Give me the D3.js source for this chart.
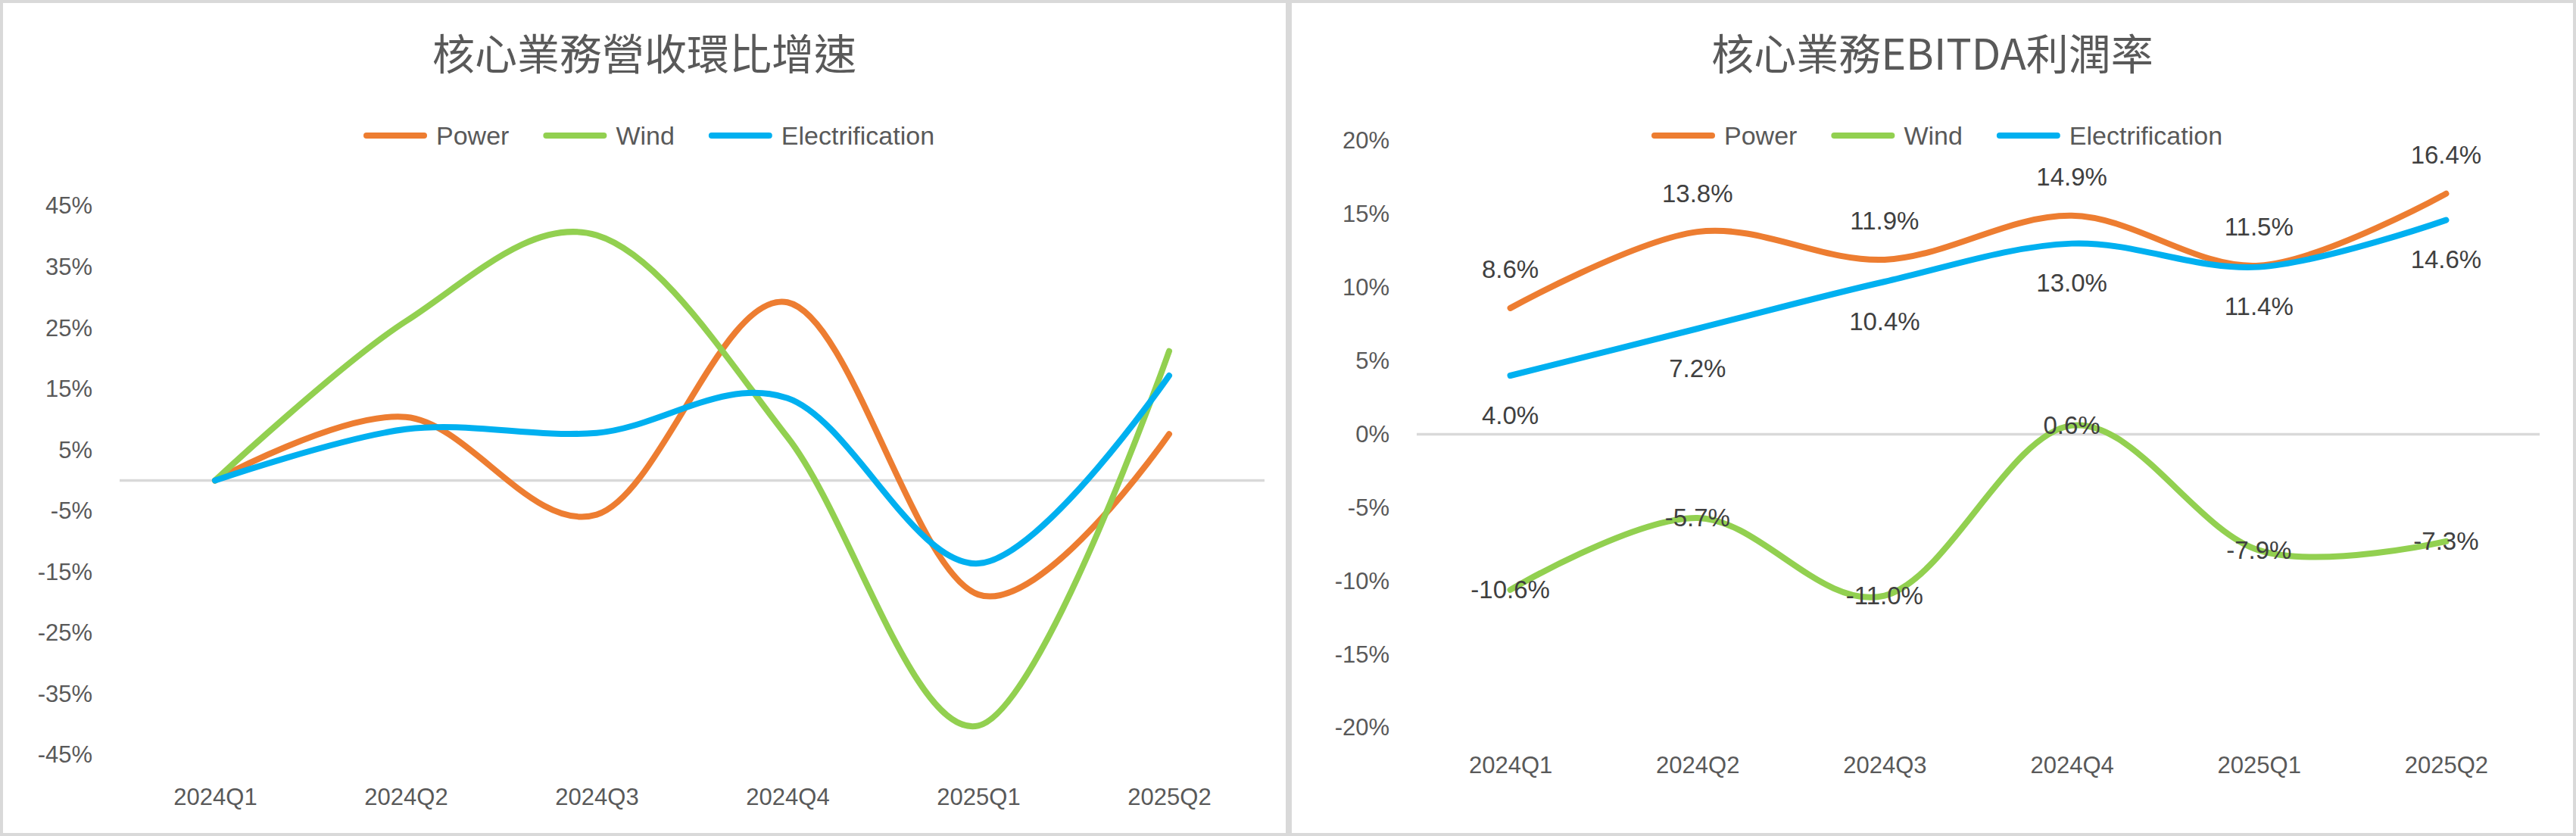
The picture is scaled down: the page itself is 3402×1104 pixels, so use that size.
<!DOCTYPE html>
<html>
<head>
<meta charset="utf-8">
<script src="https://cdn.jsdelivr.net/npm/d3@7"></script>
<style>
  html, body { margin: 0; padding: 0; background: #fff; }
  svg { display: block; }
</style>
</head>
<body>
<div id="chart"></div>
<script>
// ---------- data ----------
const categories = ["2024Q1", "2024Q2", "2024Q3", "2024Q4", "2025Q1", "2025Q2"];
const seriesNames = ["Power", "Wind", "Electrification"];
const seriesColors = ["#ED7D31", "#92D050", "#00B0F0"];

// Left chart: 核心業務營收環比增速 (%)
const revTitle = "核心業務營收環比增速";
const revPower = [0, 10.4, -5.6, 29.2, -18.7, 7.6];
const revWind = [0, 26.1, 40.2, 7.1, -40.2, 21.2];
const revElec = [0, 8.4, 7.8, 13.5, -13.6, 17.2];
const revTicks = [45, 35, 25, 15, 5, -5, -15, -25, -35, -45];

// Right chart: 核心業務EBITDA利潤率 (%)
const marginTitle = "核心業務EBITDA利潤率";
const marginPower = [8.6, 13.8, 11.9, 14.9, 11.5, 16.4];
const marginWind = [-10.6, -5.7, -11.0, 0.6, -7.9, -7.3];
const marginElec = [4.0, 7.2, 10.4, 13.0, 11.4, 14.6];
const marginTicks = [20, 15, 10, 5, 0, -5, -10, -15, -20];

// ---------- drawing ----------
const W = 3402, H = 1104;
const svg = d3.select("#chart").append("svg")
  .attr("width", W).attr("height", H)
  .style("background", "#fff");

const FONT = "'Liberation Sans', Arial, sans-serif";
const CJK = "'Noto Sans CJK TC', 'Noto Sans CJK SC', sans-serif";

function drawPanel(cfg) {
  const g = svg.append("g").attr("transform", `translate(${cfg.px},0)`);
  // panel background + border
  g.append("rect")
    .attr("x", 2).attr("y", 2)
    .attr("width", cfg.pw - 4).attr("height", H - 4)
    .attr("fill", "#fff").attr("stroke", "#d9d9d9").attr("stroke-width", 4);

  // title
  g.append("text")
    .attr("x", cfg.pw / 2).attr("y", 92)
    .attr("text-anchor", "middle")
    .attr("font-family", CJK).attr("font-size", 56)
    .attr("fill", "#595959")
    .text(cfg.title);

  // scales (percent units)
  const x = d3.scalePoint().domain(categories).range([cfg.x0, cfg.x1]).padding(0.5);
  const y = d3.scaleLinear().domain(cfg.yDomain).range([cfg.yBottom, cfg.yTop]);

  // y axis labels
  const yAxis = g.append("g")
    .attr("transform", `translate(${cfg.yLabelRight},0)`)
    .call(d3.axisLeft(y).tickValues(cfg.ticks).tickSize(0).tickPadding(0)
      .tickFormat(d => d + "%"));
  yAxis.select(".domain").remove();
  yAxis.selectAll("text")
    .attr("font-family", FONT).attr("font-size", 31).attr("fill", "#595959");

  // x axis labels
  const xAxis = g.append("g")
    .attr("transform", `translate(0,${cfg.xLabelY})`)
    .call(d3.axisBottom(x).tickSize(0).tickPadding(0));
  xAxis.select(".domain").remove();
  xAxis.selectAll("text")
    .attr("y", 0).attr("dy", "0.35em")
    .attr("font-family", FONT).attr("font-size", 31).attr("fill", "#595959");

  // zero line
  g.append("line")
    .attr("x1", cfg.x0).attr("x2", cfg.x1)
    .attr("y1", y(0)).attr("y2", y(0))
    .attr("stroke", "#d9d9d9").attr("stroke-width", 3.5);

  // lines
  const line = d3.line()
    .x((d, i) => x(categories[i]))
    .y(d => y(d))
    .curve(d3.curveCatmullRom.alpha(0));
  cfg.series.forEach((vals, si) => {
    g.append("path")
      .datum(vals)
      .attr("d", line)
      .attr("fill", "none")
      .attr("stroke", seriesColors[si])
      .attr("stroke-width", 8)
      .attr("stroke-linecap", "round")
      .attr("stroke-linejoin", "round");
  });

  // data labels
  if (cfg.labels) {
    cfg.series.forEach((vals, si) => {
      const pos = cfg.labelPos[si];
      g.append("g").selectAll("text")
        .data(vals)
        .join("text")
        .attr("x", (d, i) => x(categories[i]))
        .attr("y", d => y(d) + pos)
        .attr("dy", "0.35em")
        .attr("text-anchor", "middle")
        .attr("font-family", FONT).attr("font-size", 33)
        .attr("fill", "#404040")
        .text(d => d.toFixed(1) + "%");
    });
  }

  // legend
  const lg = g.append("g").attr("transform", `translate(0,${cfg.legendY})`);
  let lx = cfg.legendX;
  seriesNames.forEach((name, si) => {
    lg.append("line")
      .attr("x1", lx + 4).attr("x2", lx + 80)
      .attr("y1", 0).attr("y2", 0)
      .attr("stroke", seriesColors[si]).attr("stroke-width", 8)
      .attr("stroke-linecap", "round");
    const t = lg.append("text")
      .attr("x", lx + 96).attr("y", 0).attr("dy", "0.35em")
      .attr("font-family", FONT).attr("font-size", 34)
      .attr("fill", "#595959")
      .text(name);
    lx = lx + 96 + t.node().getComputedTextLength() + 45;
  });
}

drawPanel({
  px: 0, pw: 1702,
  title: revTitle,
  x0: 158, x1: 1670,
  yDomain: [-45, 45], yBottom: 997, yTop: 272,
  ticks: revTicks,
  yLabelRight: 122,
  xLabelY: 1052,
  series: [revPower, revWind, revElec],
  labels: false,
  legendX: 480, legendY: 179
});

drawPanel({
  px: 1702, pw: 1700,
  title: marginTitle,
  x0: 169, x1: 1652,
  yDomain: [-20, 20], yBottom: 961, yTop: 186,
  ticks: marginTicks,
  yLabelRight: 133,
  xLabelY: 1010,
  series: [marginPower, marginWind, marginElec],
  labels: true,
  labelPos: [-51, 0, 52],
  legendX: 479, legendY: 179
});
</script>
</body>
</html>
